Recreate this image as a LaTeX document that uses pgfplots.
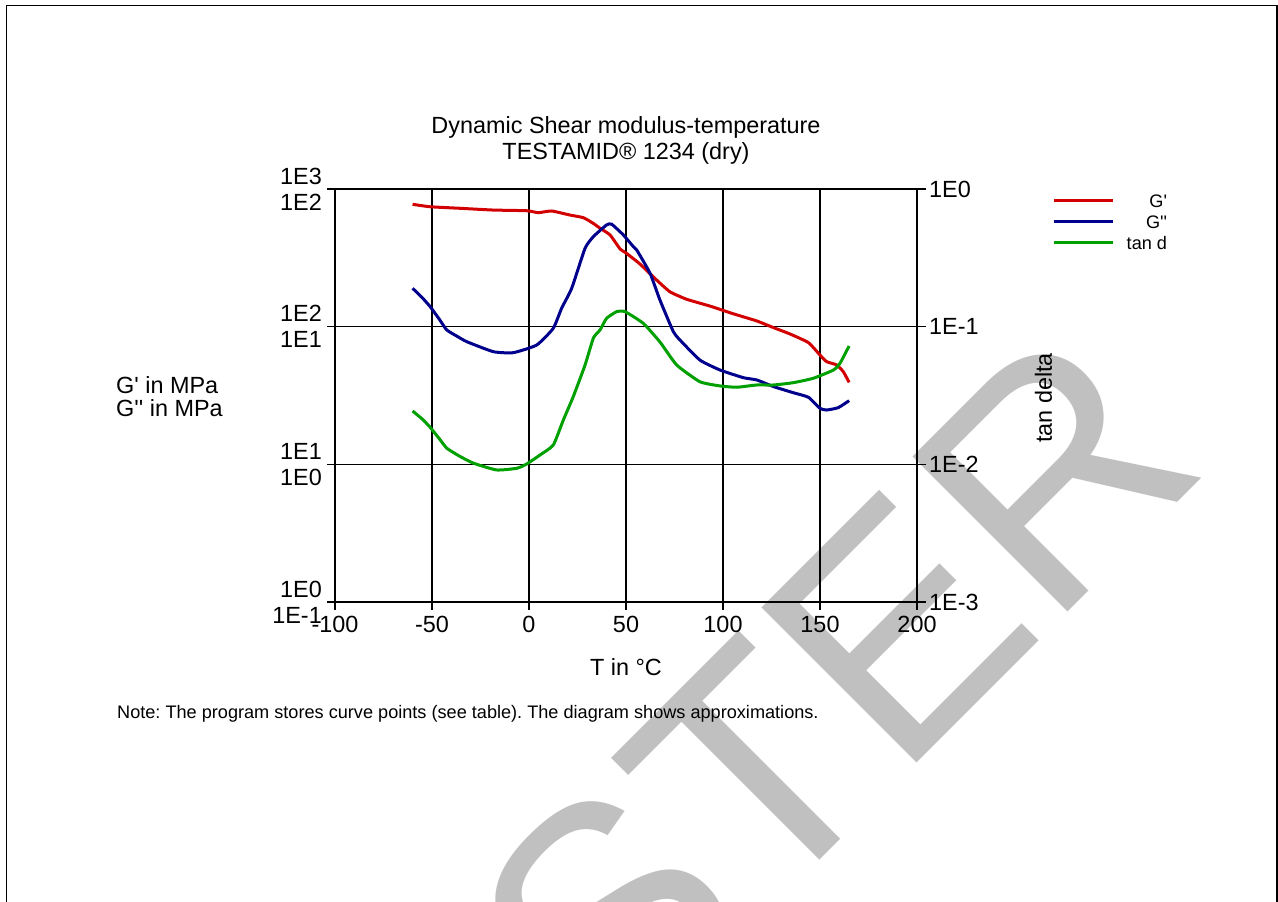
\documentclass[border=0pt]{standalone}
\usepackage{pgfplots}
\pgfplotsset{compat=1.18}
\usepackage{fontspec}
\setmainfont{Liberation Sans}
\frenchspacing
\definecolor{cR}{RGB}{210,0,0}
\definecolor{cB}{RGB}{0,0,140}
\definecolor{cG}{RGB}{0,160,0}
\definecolor{wm}{RGB}{192,192,192}
\newcommand{\fmain}{\fontsize{23.5}{23}\selectfont}
\newcommand{\fsmall}{\fontsize{18.2}{21}\selectfont}
\begin{document}
\begin{tikzpicture}[x=1bp,y=1bp]
\useasboundingbox (0,0) rectangle (1278,902);
% watermark
\node[rotate=45, anchor=base west, inner sep=0pt, text=wm, font=\fontsize{320}{320}\selectfont] at (260,-518) {MUSTER};
\draw[line width=1.5bp] (6.5,-5) -- (6.5,896.7) -- (1276.8,896.7) -- (1276.8,-5);

% title and labels
\node[align=center, font=\fontsize{23.5}{26}\selectfont] at (626,761.5) {Dynamic Shear modulus-temperature\\TESTAMID® 1234 (dry)};
\node[align=left, anchor=west, font=\fmain, inner sep=0pt] at (116,505.5) {G\textquotesingle{} in MPa\\G\textquotesingle\textquotesingle{} in MPa};
\node[rotate=90, font=\fmain, inner sep=0pt] at (1043.5,504) {tan delta};
\node[anchor=base west, font=\fsmall, inner sep=0pt] at (117,183) {Note: The program stores curve points (see table). The diagram shows approximations.};

% G' axis
\begin{axis}[scale only axis, width=582bp, height=413bp,
  at={(335bp,300bp)}, anchor=south west,
  xmin=-100, xmax=200, ymode=log, ymin=1, ymax=1000,
  /pgf/number format/assume math mode=true,
  axis line style={line width=1.6bp},
  major tick style={black, line width=1.2bp},
  yminorticks=false, xminorticks=false,
  xtick={-100,-50,50,100,150,200},
  xticklabels={-100,-50,50,100,150,200},
  extra x ticks={0}, extra x tick labels={0},
  extra x tick style={grid style={black, line width=1bp}},
  ytick={1,10,100,1000},
  yticklabels={{1E0\\1E-1},{1E1\\1E0},{1E2\\1E1},{1E3\\1E2}},
  tick pos=left, tick align=outside, major tick length=8bp,
  xmajorgrids, ymajorgrids,
  x grid style={black, line width=1.6bp},
  y grid style={black, line width=1bp},
  xticklabel style={font=\fmain, inner sep=0pt, yshift=-6bp},
  yticklabel style={font=\fontsize{23.5}{26}\selectfont, align=right, inner sep=0pt, xshift=-5bp},
  xlabel={T in °C},
  xlabel style={font=\fmain, inner sep=0pt, at={(axis description cs:0.5,0)}, anchor=center, yshift=-65bp},
]
\addplot[cR, line width=3bp, smooth, tension=0.3] coordinates {
(-60,774) (-51,743) (-35.6,724) (-18.4,703) (-1.2,695) (4.8,673) (11.7,692)
(21,647) (28,619) (33,564) (36.6,519) (41.8,463) (47,366) (50,343) (57.2,285)
(65.8,218) (72.7,179) (81.3,158) (93.3,141) (105.3,124) (117.4,110) (126,98.4)
(134.5,88.5) (144,76.6) (150,62.2) (153.4,55.7) (158.6,52.7) (162,47.1) (165,39.4)};
\end{axis}

% G'' axis
\begin{axis}[scale only axis, width=582bp, height=413bp,
  at={(335bp,300bp)}, anchor=south west,
  xmin=-100, xmax=200, ymode=log, ymin=0.1, ymax=100, hide axis]
\addplot[cB, line width=3bp, smooth, tension=0.3] coordinates {
(-60,19.0) (-55,16.2) (-51,14.0) (-46,11.2) (-42.4,9.46) (-37,8.5) (-32.1,7.78) (-18.4,6.58) (-8.1,6.47) (4,7.36)
(12.5,9.73) (16.8,13.6) (22,19.0) (28.9,37.1) (33.2,45.1) (40,54.8) (42.6,55.5)
(48.6,46.4) (53.8,38.1) (55.5,36.1) (62.4,24.4) (67.5,15.6) (74.4,9.19) (77.8,8.0)
(88.1,5.72) (98.5,4.84) (110.5,4.26) (117.4,4.10) (126,3.67) (136.3,3.31) (144,3.07)
(150,2.55) (153.4,2.48) (159.4,2.58) (165,2.90)};
\end{axis}

% tan delta axis
\begin{axis}[scale only axis, width=582bp, height=413bp,
  at={(335bp,300bp)}, anchor=south west,
  xmin=-100, xmax=200, ymode=log, ymin=0.001, ymax=1,
  /pgf/number format/assume math mode=true,
  axis x line=none, axis y line*=right,
  axis line style={line width=1.6bp, -},
  major tick style={black, line width=1.2bp},
  yminorticks=false,
  ytick={0.001,0.01,0.1,1}, yticklabels={1E-3,1E-2,1E-1,1E0},
  tick align=outside, major tick length=9bp,
  yticklabel style={font=\fmain, inner sep=0pt, xshift=3bp},
  legend cell align=right,
  legend image code/.code={\draw[#1] (0bp,5bp) -- (59bp,5bp);},
  legend style={at={(1.4296,0.9855)}, anchor=north east,
    draw=none, fill=none, inner sep=0pt, outer sep=0pt, font=\fsmall,
    row sep=0pt, nodes={inner sep=0pt, outer sep=0pt, text height=13bp, text depth=8bp},
    /tikz/every odd column/.append style={column sep=12.5bp}},
]
\addlegendimage{cR, line width=3bp}
\addlegendentry{G\textquotesingle}
\addlegendimage{cB, line width=3bp}
\addlegendentry{G\textquotesingle\textquotesingle}
\addplot[cG, line width=3bp, smooth, tension=0.3] coordinates {
(-60,0.0244) (-55,0.0213) (-51,0.0186) (-46,0.0152) (-42.4,0.0131) (-36,0.0115) (-28.7,0.0102) (-16.7,0.0091) (-6.3,0.00936)
(-1.2,0.01005) (5.7,0.0117) (12.5,0.0138) (17.7,0.0210) (22.8,0.0310) (28.9,0.0527)
(33.2,0.0828) (36.6,0.0946) (40,0.115) (45.2,0.1285) (49.5,0.1285) (58.9,0.1057)
(67.5,0.0774) (76.1,0.0527) (88.1,0.0398) (98.5,0.0371) (107.1,0.0363) (117.4,0.0377)
(126,0.0377) (136.3,0.0392) (146.6,0.0422) (156.9,0.0484) (160.3,0.0542) (165,0.0724)};
\addlegendentry{tan d}
\end{axis}
\end{tikzpicture}
\end{document}
